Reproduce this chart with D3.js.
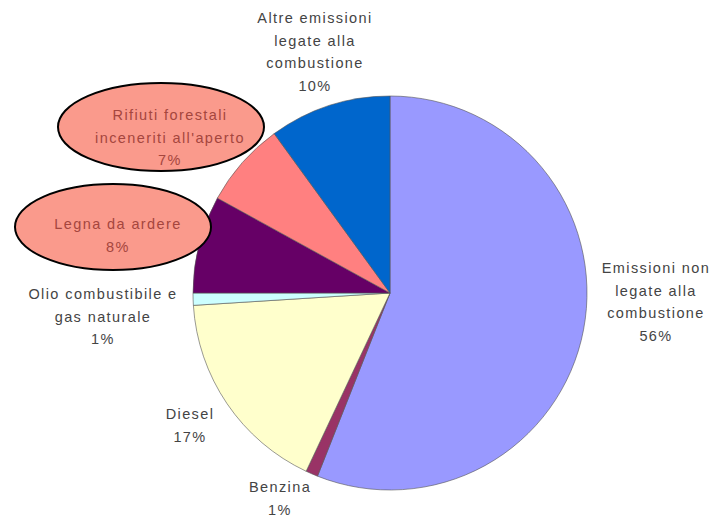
<!DOCTYPE html>
<html>
<head>
<meta charset="utf-8">
<script src="https://cdn.jsdelivr.net/npm/d3@7"></script>
<style>
  body { margin: 0; background: #fff; }
  svg text { font-family: "Liberation Sans", Arial, sans-serif; }
</style>
</head>
<body>
<svg id="chart" width="725" height="518"></svg>
<script>
(function () {
    'use strict';

    const WIDTH = 725;
    const HEIGHT = 518;

    // data, clockwise from 12 o'clock
    const categories = [
        "Emissioni non legate alla combustione",
        "Benzina",
        "Diesel",
        "Olio combustibile e gas naturale",
        "Legna da ardere",
        "Rifiuti forestali inceneriti all'aperto",
        "Altre emissioni legate alla combustione"
    ];
    const values = [56, 1, 17, 1, 8, 7, 10];
    const labelLines = [
        ["Emissioni non", "legate alla", "combustione", "56%"],
        ["Benzina", "1%"],
        ["Diesel", "17%"],
        ["Olio combustibile e", "gas naturale", "1%"],
        ["Legna da ardere", "8%"],
        ["Rifiuti forestali", "inceneriti all'aperto", "7%"],
        ["Altre emissioni", "legate alla", "combustione", "10%"]
    ];
    const highlighted = ["Legna da ardere", "Rifiuti forestali inceneriti all'aperto"];

    const colors = ["#9999ff", "#993366", "#ffffcc", "#ccffff", "#660066", "#ff8080", "#0066cc"];

    // label anchors (layout only)
    const labelPos = [
        [656, 268], [280, 487], [190, 414], [103, 294], [118, 224], [170, 115], [315, 18]
    ];
    const bubbles = {
        "Legna da ardere": {cx: 113, cy: 227, rx: 98, ry: 43},
        "Rifiuti forestali inceneriti all'aperto": {cx: 161, cy: 127, rx: 103, ry: 44}
    };

    const cx = 390, cy = 293, radius = 197;

    const svg = d3.select("#chart");

    const data = categories.map((c, i) => ({name: c, value: values[i], i: i}));
    const pie = d3.pie().sort(null).value(d => d.value);
    const arc = d3.arc().innerRadius(0).outerRadius(radius);

    const g = svg.append("g").attr("transform", `translate(${cx},${cy})`);
    g.selectAll("path")
        .data(pie(data))
        .join("path")
        .attr("d", arc)
        .attr("fill", d => colors[d.data.i])
        .attr("stroke", "#555")
        .attr("stroke-width", 0.6);

    // highlight ellipses
    highlighted.forEach(name => {
        let b = bubbles[name];
        svg.append("ellipse")
            .attr("cx", b.cx).attr("cy", b.cy)
            .attr("rx", b.rx).attr("ry", b.ry)
            .attr("fill", "#fa9a8c")
            .attr("stroke", "#000")
            .attr("stroke-width", 2);
    });

    // labels
    data.forEach((d, i) => {
        let isHi = highlighted.includes(d.name);
        let t = svg.append("text")
            .attr("x", labelPos[i][0])
            .attr("y", labelPos[i][1])
            .attr("text-anchor", "middle")
            .attr("font-size", 14.5)
            .attr("letter-spacing", 1.4)
            .attr("fill", isHi ? "#a5463e" : "#444");
        labelLines[i].forEach((line, k) => {
            t.append("tspan")
                .attr("x", labelPos[i][0])
                .attr("dy", k === 0 ? "0.35em" : 22.5)
                .text(line);
        });
    });
})();
</script>
</body>
</html>
